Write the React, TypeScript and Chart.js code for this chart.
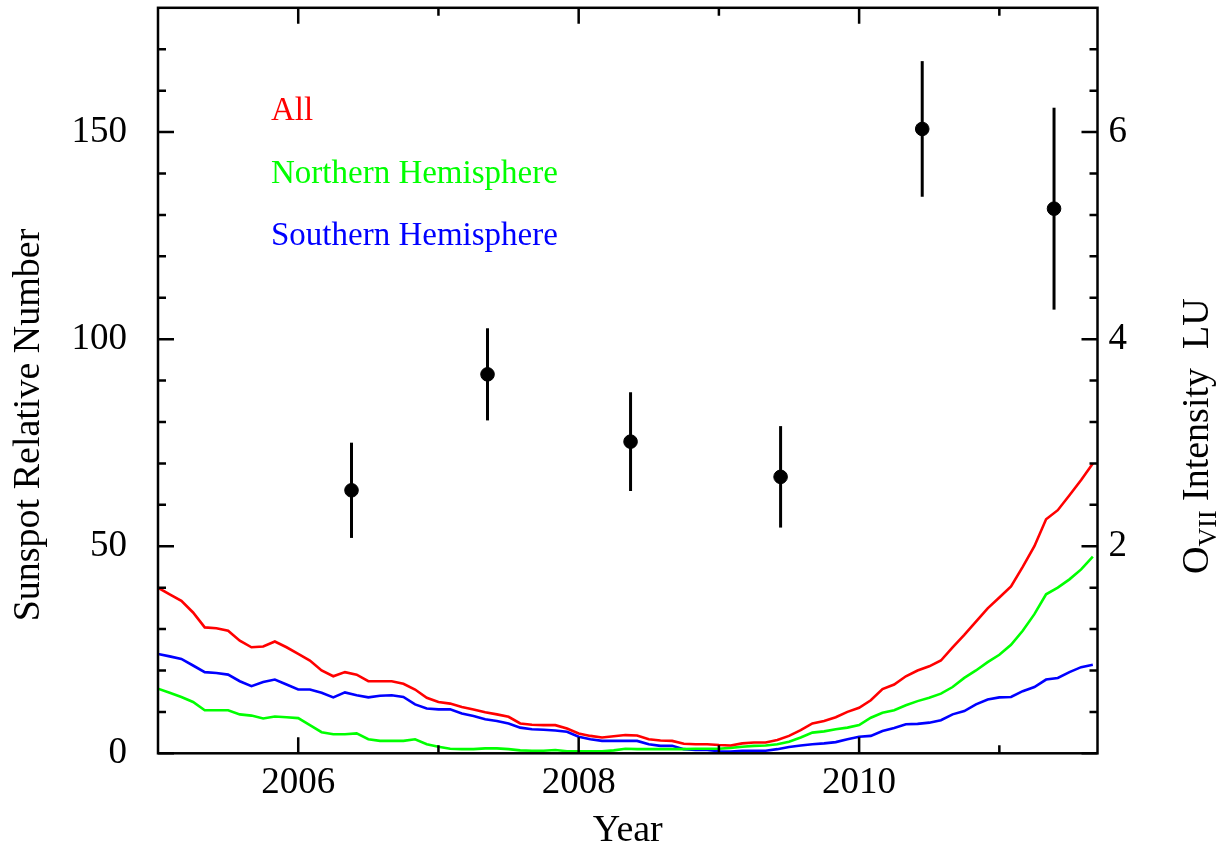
import React, { useEffect, useRef } from "react";
import { Chart, registerables } from "chart.js";

Chart.register(...registerables);

// Monthly smoothed sunspot relative numbers, starting January 2005
const START_YEAR = 2005;
const allSunspots = [
  40, 38.4, 36.8, 34, 30.4, 30.2, 29.6, 27.2, 25.6, 25.8, 27, 25.6,
  24, 22.4, 20, 18.6, 19.6, 19, 17.4, 17.4, 17.4, 16.8, 15.4, 13.4,
  12.4, 12, 11.2, 10.6, 9.9, 9.4, 8.8, 7.2, 6.9, 6.8, 6.8, 6,
  4.8, 4.2, 3.8, 4.1, 4.4, 4.3, 3.4, 3.1, 3, 2.3, 2.2, 2.2,
  2, 1.9, 2.4, 2.6, 2.6, 3.2, 4.2, 5.6, 7.2, 7.8, 8.7, 10,
  11, 12.8, 15.5, 16.6, 18.6, 20, 21, 22.4, 25.6, 28.6, 31.8, 35,
  37.6, 40.3, 45, 50, 56.5, 58.7, 62.3, 66, 70,
];
const northSunspots = [
  15.6, 14.6, 13.6, 12.4, 10.4, 10.4, 10.4, 9.4, 9.1, 8.4, 8.9, 8.7,
  8.5, 6.8, 5.1, 4.6, 4.6, 4.8, 3.4, 3, 3, 3, 3.4, 2.2,
  1.6, 1.1, 1, 1, 1.2, 1.2, 1, 0.7, 0.6, 0.6, 0.8, 0.5,
  0.5, 0.5, 0.5, 0.7, 1.1, 1, 1, 1, 1, 1, 1.1, 1.1,
  1.1, 1.3, 1.6, 1.8, 1.9, 2.2, 2.8, 3.8, 5, 5.3, 5.8, 6.2,
  6.8, 8.6, 9.8, 10.4, 11.6, 12.6, 13.4, 14.4, 16, 18.2, 20, 22,
  23.8, 26.2, 29.6, 33.6, 38.4, 40, 42, 44.4, 47.5,
];
const southSunspots = [
  24, 23.4, 22.8, 21.2, 19.6, 19.4, 19, 17.4, 16.2, 17.2, 17.8, 16.6,
  15.4, 15.4, 14.6, 13.5, 14.7, 14, 13.5, 13.9, 14, 13.6, 11.8, 10.8,
  10.6, 10.6, 9.6, 9, 8.2, 7.8, 7.2, 6.2, 5.8, 5.7, 5.5, 5.2,
  4, 3.4, 3, 3, 3, 3, 2.2, 1.8, 1.8, 1, 0.8, 0.8,
  0.5, 0.4, 0.6, 0.6, 0.6, 1, 1.5, 1.9, 2.2, 2.4, 2.7, 3.4,
  4, 4.2, 5.4, 6.1, 7, 7.1, 7.4, 8, 9.4, 10.2, 11.8, 13,
  13.5, 13.6, 15, 16, 17.8, 18.2, 19.6, 20.8, 21.4,
];
const monthYears = allSunspots.map((_, i) => START_YEAR + i / 12);

// O VII intensity observations (LU) with 1-sigma errors
const obsYears = [2006.38, 2007.35, 2008.37, 2009.44, 2010.45, 2011.39];
const obsIntensity = [2.54, 3.66, 3.01, 2.67, 6.03, 5.26];
const obsError = [0.46, 0.445, 0.477, 0.49, 0.655, 0.975];

// Axes
const X_MIN = 2005;
const X_MAX = 2011.7;
const xTickValues = [2006, 2008, 2010];
const xMinorTickValues = [2007, 2009, 2011];
const yTickValues = [0, 50, 100, 150];
const yMinorTickValues = [10, 20, 30, 40, 60, 70, 80, 90, 110, 120, 130, 140, 160, 170];
const Y_MAX = 180;
const y1TickValues = [2, 4, 6];
const Y1_MAX = 7.2;

const legendLabels = ["All", "Northern Hemisphere", "Southern Hemisphere"];
const legendColors = ["#ff0000", "#00ff00", "#0000ff"];

const FONT_FAMILY = "'Liberation Serif', 'Times New Roman', serif";

const errorBarPlugin = {
  id: "errorBars",
  beforeDatasetsDraw(chart: any) {
    const xs = chart.scales.x;
    const ys = chart.scales.y1;
    const ctx = chart.ctx;
    ctx.save();
    ctx.strokeStyle = "#000";
    ctx.lineWidth = 3;
    obsYears.forEach((yr, i) => {
      const px = xs.getPixelForValue(yr);
      ctx.beginPath();
      ctx.moveTo(px, ys.getPixelForValue(obsIntensity[i] - obsError[i]));
      ctx.lineTo(px, ys.getPixelForValue(obsIntensity[i] + obsError[i]));
      ctx.stroke();
    });
    ctx.restore();
  },
};

const framePlugin = {
  id: "frame",
  afterDraw(chart: any) {
    const { ctx, chartArea } = chart;
    const { left, right, top, bottom } = chartArea;
    const xs = chart.scales.x;
    const ys = chart.scales.y;
    const MAJOR = 16;
    const MINOR = 8;
    ctx.save();
    ctx.strokeStyle = "#000";
    ctx.lineWidth = 2.5;
    ctx.lineCap = "butt";
    ctx.strokeRect(left, top, right - left, bottom - top);
    const vTick = (v: number, len: number) => {
      const px = xs.getPixelForValue(v);
      ctx.beginPath();
      ctx.moveTo(px, bottom);
      ctx.lineTo(px, bottom - len);
      ctx.moveTo(px, top);
      ctx.lineTo(px, top + len);
      ctx.stroke();
    };
    const hTick = (v: number, len: number) => {
      const py = ys.getPixelForValue(v);
      ctx.beginPath();
      ctx.moveTo(left, py);
      ctx.lineTo(left + len, py);
      ctx.moveTo(right, py);
      ctx.lineTo(right - len, py);
      ctx.stroke();
    };
    xTickValues.forEach((v) => vTick(v, MAJOR));
    xMinorTickValues.forEach((v) => vTick(v, MINOR));
    yTickValues.forEach((v) => hTick(v, MAJOR));
    yMinorTickValues.forEach((v) => hTick(v, MINOR));

    // legend text
    ctx.font = `33px ${FONT_FAMILY}`;
    ctx.textAlign = "left";
    ctx.textBaseline = "alphabetic";
    legendLabels.forEach((t, i) => {
      ctx.fillStyle = legendColors[i];
      ctx.fillText(t, 271, 120 + i * 62.5);
    });

    // axis titles
    ctx.fillStyle = "#000";
    ctx.font = `38px ${FONT_FAMILY}`;
    ctx.textAlign = "center";
    ctx.fillText("Year", (left + right) / 2, 841);

    ctx.save();
    ctx.translate(39, 425);
    ctx.rotate(-Math.PI / 2);
    ctx.textAlign = "center";
    ctx.fillText("Sunspot Relative Number", 0, 0);
    ctx.restore();

    // right title: O_VII Intensity  LU
    ctx.save();
    ctx.translate(1208, 574);
    ctx.rotate(-Math.PI / 2);
    ctx.textAlign = "left";
    let cx = 0;
    ctx.font = `38px ${FONT_FAMILY}`;
    ctx.fillText("O", cx, 0);
    cx += ctx.measureText("O").width;
    ctx.font = `26px ${FONT_FAMILY}`;
    ctx.fillText("VII", cx, 8);
    cx += ctx.measureText("VII").width;
    ctx.font = `38px ${FONT_FAMILY}`;
    ctx.fillText(" Intensity  LU", cx, 0);
    ctx.restore();

    ctx.restore();
  },
};

const zeroPad = (s: any) => {
  s.paddingTop = 0;
  s.paddingBottom = 0;
  s.paddingLeft = 0;
  s.paddingRight = 0;
};

export default function App() {
  const canvasRef = useRef<HTMLCanvasElement | null>(null);

  useEffect(() => {
    if (!canvasRef.current) return;
    const tickFont = { family: FONT_FAMILY, size: 37 };
    const lineDs = (label: string, values: number[], color: string) => ({
      type: "line" as const,
      label,
      data: values.map((v, i) => ({ x: monthYears[i], y: v })),
      borderColor: color,
      backgroundColor: color,
      borderWidth: 2.6,
      pointRadius: 0,
      fill: false,
      tension: 0,
      yAxisID: "y",
    });
    const chart = new Chart(canvasRef.current, {
      type: "scatter",
      data: {
        datasets: [
          {
            type: "scatter",
            label: "O VII intensity",
            data: obsYears.map((x, i) => ({ x, y: obsIntensity[i] })),
            backgroundColor: "#000",
            borderColor: "#000",
            pointRadius: 6.8,
            pointHoverRadius: 6.8,
            yAxisID: "y1",
          } as any,
          lineDs(legendLabels[0], allSunspots, legendColors[0]),
          lineDs(legendLabels[1], northSunspots, legendColors[1]),
          lineDs(legendLabels[2], southSunspots, legendColors[2]),
        ],
      },
      options: {
        responsive: false,
        animation: false,
        layout: { padding: { top: 4, left: 0, right: 0, bottom: 0 } },
        plugins: { legend: { display: false }, tooltip: { enabled: false } },
        scales: {
          x: {
            type: "linear",
            position: "bottom",
            min: X_MIN,
            max: X_MAX,
            grid: { display: false, drawTicks: false },
            border: { display: false },
            ticks: { padding: 8, font: tickFont, color: "#000", maxRotation: 0, callback: (v: any) => String(v) },
            afterBuildTicks: (s: any) => {
              s.ticks = xTickValues.map((v) => ({ value: v }));
            },
            afterFit: (s: any) => {
              s.height = 94.7;
              zeroPad(s);
            },
          },
          y: {
            type: "linear",
            position: "left",
            min: 0,
            max: Y_MAX,
            grid: { display: false, drawTicks: false },
            border: { display: false },
            ticks: { padding: 31, font: tickFont, color: "#000", callback: (v: any) => String(v) },
            afterBuildTicks: (s: any) => {
              s.ticks = yTickValues.map((v) => ({ value: v }));
            },
            afterFit: (s: any) => {
              s.width = 158;
              zeroPad(s);
            },
          },
          y1: {
            type: "linear",
            position: "right",
            min: 0,
            max: Y1_MAX,
            grid: { display: false, drawTicks: false },
            border: { display: false },
            ticks: { padding: 11, font: tickFont, color: "#000", callback: (v: any) => String(v) },
            afterBuildTicks: (s: any) => {
              s.ticks = y1TickValues.map((v) => ({ value: v }));
            },
            afterFit: (s: any) => {
              s.width = 129.5;
              zeroPad(s);
            },
          },
        },
      } as any,
      plugins: [errorBarPlugin, framePlugin],
    });
    return () => chart.destroy();
  }, []);

  return (
    <div style={{ position: "fixed", left: 0, top: 0, width: 1227, height: 848, background: "#fff" }}>
      <canvas ref={canvasRef} width={1227} height={848} style={{ display: "block" }} />
    </div>
  );
}
